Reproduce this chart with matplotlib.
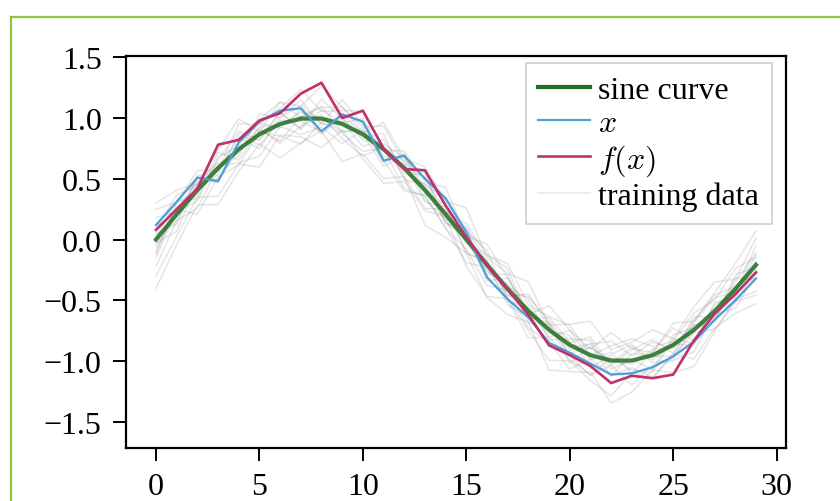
import matplotlib
matplotlib.use("Agg")
import matplotlib.pyplot as plt
from matplotlib.lines import Line2D
import numpy as np

plt.rcParams['font.family'] = ['Liberation Serif', 'DejaVu Serif']
plt.rcParams['mathtext.fontset'] = 'cm'

steps = list(range(30))

sine_curve = [0.000, 0.208, 0.407, 0.588, 0.743, 0.866, 0.951, 0.995, 0.995, 0.951,
              0.866, 0.743, 0.588, 0.407, 0.208, 0.000, -0.208, -0.407, -0.588, -0.743,
              -0.866, -0.951, -0.995, -0.995, -0.951, -0.866, -0.743, -0.588, -0.407, -0.208]

x_series = [0.12, 0.31, 0.51, 0.48, 0.80, 0.97, 1.06, 1.08, 0.89, 1.03,
            0.97, 0.65, 0.69, 0.50, 0.34, 0.06, -0.31, -0.49, -0.64, -0.85,
            -0.93, -1.02, -1.11, -1.10, -1.05, -0.96, -0.84, -0.66, -0.50, -0.32]

fx_series = [0.08, 0.25, 0.42, 0.78, 0.82, 0.98, 1.04, 1.20, 1.29, 1.00,
             1.06, 0.75, 0.58, 0.57, 0.28, 0.02, -0.21, -0.41, -0.62, -0.87,
             -0.95, -1.04, -1.18, -1.12, -1.14, -1.11, -0.83, -0.61, -0.45, -0.27]

# training data, read as offsets from the sine curve
train_offsets = [
    [0.05, -0.08, 0.12, -0.03, 0.10, -0.12, 0.06, 0.15, -0.05, 0.02, -0.10, 0.08, -0.02, 0.11, -0.07,
     0.04, -0.13, 0.09, 0.01, -0.06, 0.12, -0.04, 0.07, -0.11, 0.03, 0.14, -0.09, 0.05, -0.02, 0.08],
    [-0.10, 0.06, -0.04, 0.13, -0.09, 0.03, -0.14, 0.02, 0.10, -0.07, 0.05, -0.11, 0.12, -0.03, 0.08,
     -0.12, 0.04, -0.06, 0.14, 0.03, -0.08, 0.10, -0.13, 0.06, -0.01, -0.09, 0.11, -0.05, 0.09, -0.12],
    [0.18, 0.02, -0.09, 0.07, 0.15, -0.05, 0.09, -0.08, 0.16, 0.04, -0.03, 0.13, -0.10, 0.05, 0.12,
     -0.02, 0.08, 0.17, -0.06, 0.10, 0.02, 0.15, -0.04, 0.09, 0.13, -0.07, 0.06, 0.11, -0.03, 0.16],
    [-0.22, -0.05, -0.15, 0.01, -0.11, -0.18, -0.02, -0.13, -0.07, -0.16, 0.03, -0.09, -0.19, -0.04, -0.12,
     -0.08, -0.17, -0.01, -0.14, -0.10, -0.20, -0.03, -0.12, -0.06, -0.18, -0.09, -0.02, -0.15, -0.11, -0.04],
    [0.08, 0.16, 0.03, 0.20, 0.07, 0.12, 0.18, 0.01, 0.09, 0.14, 0.06, 0.19, 0.04, 0.10, 0.02,
     0.13, 0.08, 0.21, 0.05, 0.11, 0.16, 0.00, 0.12, 0.18, 0.07, 0.03, 0.14, 0.09, 0.17, 0.06],
    [-0.03, -0.14, 0.07, -0.09, -0.01, 0.05, -0.16, -0.06, 0.03, -0.12, -0.18, 0.02, -0.07, -0.15, 0.04,
     -0.10, 0.01, -0.13, -0.05, 0.06, -0.09, -0.17, 0.03, -0.08, -0.14, 0.05, -0.11, -0.02, -0.16, -0.07],
    [0.12, -0.02, 0.09, 0.04, -0.06, 0.17, 0.05, 0.11, -0.04, 0.20, 0.08, -0.01, 0.06, 0.14, -0.08,
     0.10, 0.03, -0.05, 0.12, 0.07, -0.02, 0.09, 0.16, 0.04, 0.11, -0.03, 0.08, 0.13, 0.02, -0.06],
    [-0.15, 0.04, -0.20, -0.07, -0.13, 0.02, -0.10, -0.21, -0.03, -0.08, -0.14, 0.01, -0.17, -0.05, -0.11,
     -0.19, -0.02, -0.09, -0.22, -0.06, -0.12, -0.16, -0.04, -0.20, -0.08, -0.13, -0.18, -0.01, -0.10, -0.25],
    [0.25, 0.10, 0.16, -0.02, 0.21, 0.08, 0.13, 0.24, 0.06, 0.11, 0.19, -0.01, 0.14, 0.07, 0.22,
     0.03, 0.17, 0.09, -0.03, 0.20, 0.12, 0.05, 0.23, 0.10, 0.02, 0.18, 0.07, 0.15, 0.21, 0.28],
    [-0.30, -0.18, -0.06, -0.23, -0.12, -0.27, -0.09, -0.15, -0.24, -0.05, -0.20, -0.28, -0.11, -0.17, -0.02,
     -0.22, -0.26, -0.08, -0.16, -0.25, -0.13, -0.21, -0.29, -0.10, -0.19, -0.07, -0.24, -0.14, -0.20, -0.32],
    [0.02, 0.11, -0.07, 0.09, 0.03, -0.04, 0.10, -0.09, 0.07, 0.01, 0.13, -0.06, 0.04, -0.10, 0.06,
     0.09, -0.05, 0.02, 0.10, -0.08, 0.05, 0.12, -0.07, 0.01, -0.12, 0.08, 0.02, -0.08, 0.06, 0.10],
    [-0.06, 0.01, 0.10, -0.12, 0.04, 0.09, -0.03, 0.07, -0.13, 0.06, -0.05, 0.04, 0.09, -0.08, -0.04,
     0.07, 0.12, -0.10, 0.03, -0.01, 0.08, -0.11, 0.05, 0.13, -0.04, 0.01, -0.13, 0.07, -0.07, 0.02],
    [0.30, 0.20, 0.05, 0.15, 0.25, 0.02, 0.18, 0.10, 0.27, 0.14, 0.01, 0.22, 0.08, 0.19, 0.11,
     0.26, 0.06, 0.13, 0.24, 0.04, 0.17, 0.28, 0.09, 0.15, 0.21, 0.05, 0.19, 0.24, 0.08, 0.22],
    [-0.40, -0.25, -0.12, -0.30, -0.18, -0.08, -0.28, -0.20, -0.10, -0.31, -0.16, -0.24, -0.07, -0.29, -0.19,
     -0.11, -0.27, -0.21, -0.09, -0.33, -0.22, -0.14, -0.35, -0.26, -0.12, -0.23, -0.30, -0.17, -0.08, -0.22],
    [0.00, -0.05, 0.04, 0.02, -0.03, 0.06, -0.01, 0.05, 0.00, -0.06, 0.03, 0.01, -0.04, 0.05, -0.02,
     0.03, -0.05, 0.04, -0.01, 0.02, -0.04, 0.06, 0.00, -0.03, 0.05, -0.02, 0.04, -0.06, 0.01, 0.03],
    [-0.12, 0.09, 0.00, -0.05, 0.13, -0.09, 0.03, -0.02, -0.11, 0.08, 0.00, -0.14, 0.10, 0.02, -0.06,
     0.00, -0.08, 0.12, -0.10, 0.05, -0.15, 0.07, -0.02, 0.11, -0.06, -0.12, 0.04, -0.09, 0.12, -0.02],
]

fig = plt.figure(figsize=(8.4, 5.02), dpi=100)
ax = fig.add_axes([0.15, 0.1056, 0.7857, 0.7809])

# page border
border = "#8cc63f"
fig.add_artist(Line2D([11 / 840, 11 / 840], [0, 1 - 18 / 502], transform=fig.transFigure,
                      color=border, lw=1.6))
fig.add_artist(Line2D([11 / 840, 1], [1 - 18 / 502, 1 - 18 / 502], transform=fig.transFigure,
                      color=border, lw=1.6))

sine_arr = np.array(sine_curve)
for k, off in enumerate(train_offsets):
    ax.plot(steps, sine_arr + np.array(off), color="#8a8a8a", alpha=0.22, lw=1.1,
            label="training data" if k == 0 else None, zorder=1)

ax.plot(steps, sine_curve, color="#1f6f1f", alpha=0.85, lw=3, label="sine curve", zorder=3)
ax.plot(steps, x_series, color="#4c9fd9", lw=1.6, label=r"$x$", zorder=4)
ax.plot(steps, fx_series, color="#c0306b", lw=1.9, label=r"$f(x)$", zorder=5)

ax.set_xlim(-1.45, 30.45)
ax.set_ylim(-1.714, 1.51)
ax.set_xticks([0, 5, 10, 15, 20, 25, 30])
ax.set_yticks([-1.5, -1.0, -0.5, 0.0, 0.5, 1.0, 1.5])
ax.tick_params(labelsize=23, length=9.5, width=1.4, pad=8, direction="out")
for s in ax.spines.values():
    s.set_linewidth(1.6)

handles, labels = ax.get_legend_handles_labels()
order = [1, 2, 3, 0]
leg = ax.legend([handles[i] for i in order], [labels[i] for i in order],
                loc="upper right", bbox_to_anchor=(0.979, 0.982), borderaxespad=0,
                fontsize=23, fancybox=False, edgecolor="#d0d0d0", framealpha=1,
                labelspacing=0.12, handlelength=1.6, handletextpad=0.28, borderpad=0.4)
leg.get_frame().set_linewidth(1.2)
leg.legend_handles[0].set_alpha(1.0)
leg.legend_handles[3].set_alpha(0.2)

fig.savefig("out.png", dpi=100)
